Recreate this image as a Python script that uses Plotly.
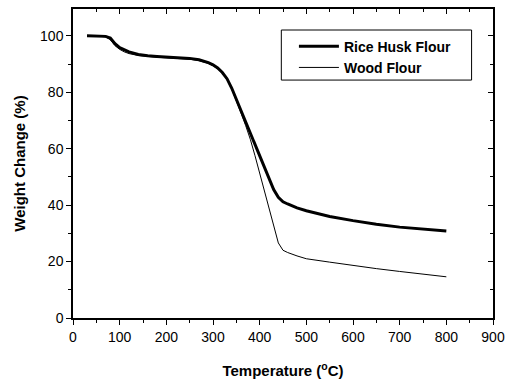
import plotly.graph_objects as go

# TGA curves: residual weight (%) vs temperature (deg C)
temperature = [30, 50, 70, 80, 90, 100, 110, 120, 140, 160, 180, 200, 225, 250, 270,
               290, 300, 310, 320, 330, 340, 350, 360, 370, 380, 390, 400, 410, 420,
               430, 440, 450, 460, 480, 500, 550, 600, 650, 700, 750, 800]

rice_husk = [100, 100, 99.8, 99.2, 97.2, 95.8, 95.0, 94.3, 93.4, 92.9, 92.7, 92.5, 92.3,
             92.0, 91.5, 90.5, 89.7, 88.6, 87.0, 84.8, 81.5, 77.5, 73.2, 69.0, 65.2,
             61.3, 57.3, 53.3, 49.3, 45.5, 42.8, 41.2, 40.4, 39.0, 38.0, 36.0, 34.5,
             33.2, 32.2, 31.4, 30.8]

wood = [100, 100, 99.6, 98.6, 96.5, 95.2, 94.3, 93.7, 93.0, 92.6, 92.4, 92.2, 92.0,
        91.7, 91.2, 90.2, 89.4, 88.3, 86.7, 84.5, 81.2, 77.2, 72.6, 68.2, 63.3,
        57.5, 51.2, 45.0, 38.6, 32.2, 26.6, 24.0, 23.2, 22.0, 21.0, 19.8, 18.6,
        17.5, 16.5, 15.5, 14.6]

x_ticks = [0, 100, 200, 300, 400, 500, 600, 700, 800, 900]
y_ticks = [0, 20, 40, 60, 80, 100]
x_range = [0, 900]
y_range = [0, 109.5]

FONT = "Arial, Liberation Sans, sans-serif"

fig = go.Figure()
fig.add_trace(go.Scatter(x=temperature, y=rice_husk, mode="lines",
                         name="Rice Husk Flour",
                         line=dict(color="black", width=3)))
fig.add_trace(go.Scatter(x=temperature, y=wood, mode="lines",
                         name="Wood Flour",
                         line=dict(color="black", width=1)))
# empty trace so the top/right frame axes get drawn
fig.add_trace(go.Scatter(x=[None], y=[None], xaxis="x2", yaxis="y2",
                         showlegend=False, hoverinfo="skip"))

axis_common = dict(showgrid=False, zeroline=False, showline=True,
                   linecolor="black", linewidth=1.5, tickcolor="black",
                   tickwidth=1.2)

# legend frame
fig.add_shape(type="rect", xref="paper", yref="paper",
              x0=0.496, x1=0.949, y0=0.770, y1=0.932,
              line=dict(color="black", width=1), fillcolor="white", layer="below")

fig.update_layout(
    width=515, height=386,
    margin=dict(l=73, r=22, t=9, b=68),
    paper_bgcolor="white", plot_bgcolor="white",
    font=dict(family=FONT, color="black", size=14),
    showlegend=True,
    legend=dict(x=0.526, y=0.93, xanchor="left", yanchor="top",
                borderwidth=0, bgcolor="rgba(0,0,0,0)",
                font=dict(family=FONT, size=14, weight="bold", color="black"),
                itemwidth=40, tracegroupgap=0),
    xaxis=dict(range=x_range, tickvals=x_ticks, ticks="outside", ticklen=5,
               minor=dict(ticks="outside", ticklen=3, dtick=50, tick0=0,
                          tickcolor="black"),
               title=dict(text="<b>Temperature (<sup>o</sup>C)</b>",
                          font=dict(size=15), standoff=22),
               **axis_common),
    yaxis=dict(range=y_range, tickvals=y_ticks, ticks="outside", ticklen=5,
               minor=dict(ticks="outside", ticklen=3, dtick=10, tick0=0,
                          tickcolor="black"),
               title=dict(text="<b>Weight Change (%)</b>",
                          font=dict(size=15), standoff=11),
               **axis_common),
    xaxis2=dict(range=x_range, overlaying="x", side="top", tickvals=x_ticks,
                ticks="inside", ticklen=5, showticklabels=False,
                minor=dict(ticks="inside", ticklen=3, dtick=50, tick0=0,
                           tickcolor="black"),
                **axis_common),
    yaxis2=dict(range=y_range, overlaying="y", side="right", tickvals=y_ticks,
                ticks="inside", ticklen=5, showticklabels=False,
                minor=dict(ticks="inside", ticklen=3, dtick=10, tick0=0,
                           tickcolor="black"),
                **axis_common),
)

fig.write_html("out.html")
